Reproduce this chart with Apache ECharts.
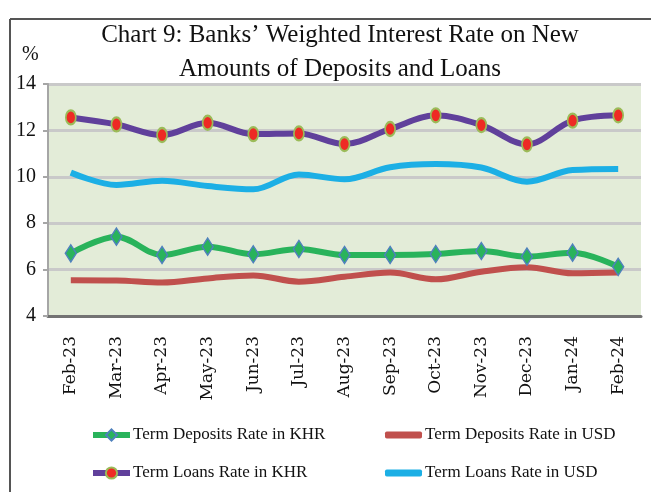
<!DOCTYPE html>
<html>
<head>
<meta charset="utf-8">
<script src="https://cdn.jsdelivr.net/npm/echarts@6/dist/echarts.min.js"></script>
<style>
  html, body { margin: 0; padding: 0; background: #fff; }
  #chart { width: 651px; height: 492px; }
</style>
</head>
<body>
<div id="chart"></div>
<script>
  // months on the x axis
  const months = ['Feb-23', 'Mar-23', 'Apr-23', 'May-23', 'Jun-23', 'Jul-23', 'Aug-23',
    'Sep-23', 'Oct-23', 'Nov-23', 'Dec-23', 'Jan-24', 'Feb-24']

  // rates in %
  const depositsKHR = [6.70, 7.42, 6.63, 6.99, 6.66, 6.89, 6.63, 6.63, 6.67, 6.80, 6.56, 6.73, 6.12]
  const depositsUSD = [5.54, 5.53, 5.44, 5.62, 5.75, 5.48, 5.69, 5.87, 5.58, 5.91, 6.10, 5.84, 5.87]
  const loansKHR = [12.56, 12.26, 11.80, 12.33, 11.84, 11.87, 11.41, 12.06, 12.65, 12.23, 11.40, 12.42, 12.65]
  const loansUSD = [10.18, 9.65, 9.83, 9.60, 9.46, 10.10, 9.89, 10.41, 10.55, 10.40, 9.79, 10.29, 10.34]

  const yTicks = { min: 4, max: 14, step: 2 }

  const serif = 'Liberation Serif'

  const chart = echarts.init(document.getElementById('chart'))

  // one legend box per key, laid out 2 x 2 like the original
  function legendItem(name, left, top, plain) {
    const l = {
      data: [name],
      left: left,
      top: top,
      padding: 0,
      itemWidth: 37,
      itemHeight: 14,
      lineStyle: { width: 6 },
      textStyle: { fontFamily: serif, fontSize: 17, lineHeight: 18, color: '#111', padding: [0, 0, 0, -2] }
    }
    if (plain) {
      // USD series have no markers: flat rounded bar
      l.icon = 'roundRect'
      l.itemHeight = 7
    }
    return l
  }

  chart.setOption({
    backgroundColor: '#fff',
    animation: false,
    title: {
      text: 'Chart 9: Banks\u2019 Weighted Interest Rate on New\nAmounts of Deposits and Loans',
      left: 335,
      top: 13,
      textAlign: 'center',
      textStyle: {
        fontFamily: serif,
        fontSize: 25,
        fontWeight: 'normal',
        color: '#111',
        lineHeight: 34
      }
    },
    graphic: [
      // frame round the chart
      { type: 'line', shape: { x1: 10, y1: 19, x2: 651, y2: 19 }, style: { stroke: '#555', lineWidth: 2 } },
      { type: 'line', shape: { x1: 10, y1: 19, x2: 10, y2: 492 }, style: { stroke: '#555', lineWidth: 2 } },
      {
        type: 'text', left: 22, top: 45,
        style: { text: '%', fontFamily: serif, fontSize: 20, fill: '#111' }
      }
    ],
    legend: [
      legendItem('Term Deposits Rate in KHR', 90, 426),
      legendItem('Term Deposits Rate in USD', 385, 426, true),
      legendItem('Term Loans Rate in KHR', 90, 464),
      legendItem('Term Loans Rate in USD', 385, 464, true)
    ],
    grid: {
      left: 48,
      right: 10,
      top: 84,
      bottom: 176,
      show: true,
      backgroundColor: '#E3ECD8',
      borderWidth: 0
    },
    xAxis: {
      type: 'category',
      data: months,
      boundaryGap: true,
      axisLine: { lineStyle: { color: '#737373', width: 3 } },
      axisTick: { show: false },
      axisLabel: {
        rotate: 90,
        margin: 20,
        interval: 0,
        fontFamily: 'DejaVu Serif',
        fontSize: 17,
        color: '#111'
      }
    },
    yAxis: {
      type: 'value',
      min: yTicks.min,
      max: yTicks.max,
      interval: yTicks.step,
      axisLine: { show: true, lineStyle: { color: '#A6A6A6', width: 2 } },
      axisTick: { show: true, length: 5, lineStyle: { color: '#A6A6A6', width: 2 } },
      axisLabel: { margin: 12, fontFamily: serif, fontSize: 20, color: '#111' },
      splitLine: { lineStyle: { color: '#C9C9C9', width: 3 } }
    },
    series: [{
      name: 'Term Deposits Rate in KHR',
      type: 'line',
      data: depositsKHR,
      smooth: 0.35,
      symbol: 'diamond',
      symbolSize: [11, 17],
      z: 4,
      lineStyle: { color: '#29B35B', width: 6 },
      itemStyle: { color: '#29B35B', borderColor: '#4F81BD', borderWidth: 1.5 }
    }, {
      name: 'Term Deposits Rate in USD',
      type: 'line',
      data: depositsUSD,
      smooth: 0.35,
      symbol: 'none',
      z: 3,
      lineStyle: { color: '#C0504D', width: 6 },
      itemStyle: { color: '#C0504D' }
    }, {
      name: 'Term Loans Rate in KHR',
      type: 'line',
      data: loansKHR,
      smooth: 0.35,
      symbol: 'circle',
      symbolSize: [10, 14],
      z: 4,
      lineStyle: { color: '#60409B', width: 6 },
      itemStyle: { color: '#EE2A24', borderColor: '#9BBB59', borderWidth: 2 }
    }, {
      name: 'Term Loans Rate in USD',
      type: 'line',
      data: loansUSD,
      smooth: 0.35,
      symbol: 'none',
      z: 3,
      lineStyle: { color: '#1CAFE5', width: 6 },
      itemStyle: { color: '#1CAFE5' }
    }]
  })
</script>
</body>
</html>
